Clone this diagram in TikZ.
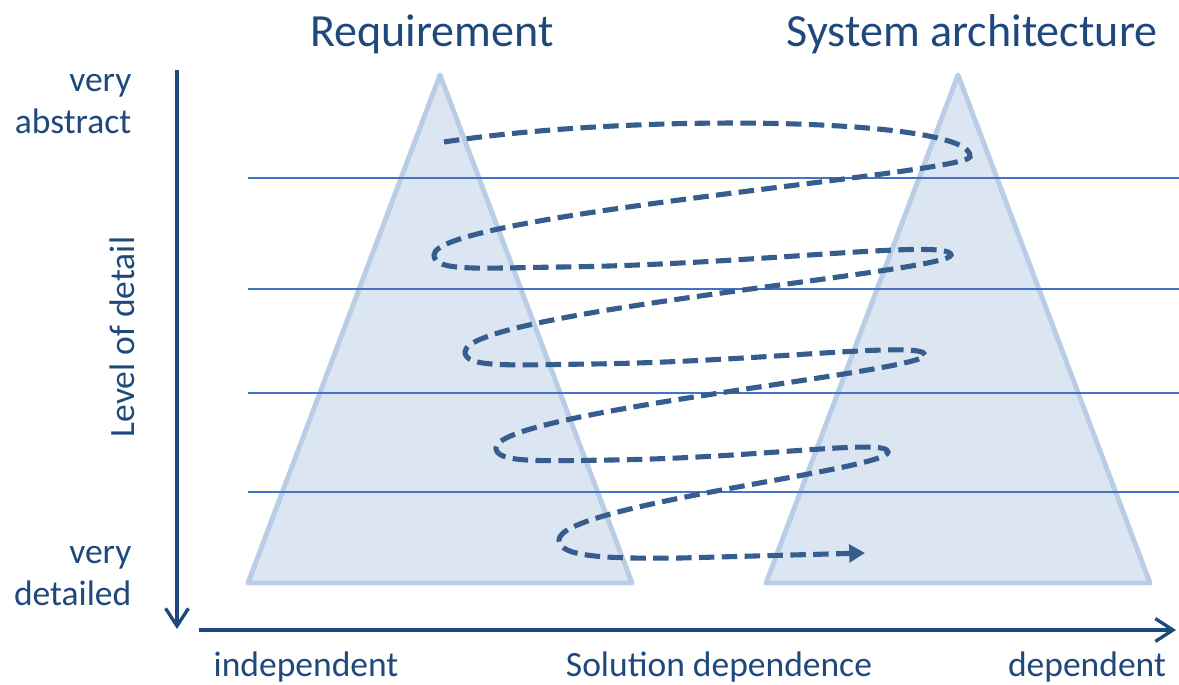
\documentclass[tikz,border=0pt]{standalone}
\usepackage{fontspec}
\setmainfont{Carlito}
\usetikzlibrary{arrows.meta}
\definecolor{txtblue}{RGB}{31,73,125}
\definecolor{trifill}{RGB}{220,230,242}
\definecolor{tridraw}{RGB}{185,205,229}
\definecolor{levline}{RGB}{68,114,196}
\definecolor{spiral}{RGB}{55,93,142}
\begin{document}
\begin{tikzpicture}[x=0.01cm,y=-0.01cm,
  title/.style={text=txtblue,font=\fontsize{13.1}{15}\selectfont,inner sep=0pt},
  lbl/.style={text=txtblue,font=\fontsize{10.1}{12}\selectfont,inner sep=0pt},
  axis/.style={draw=txtblue,line width=0.95pt,-{Straight Barb[length=5pt,width=6.5pt,line width=0.95pt]}},
  tri/.style={fill=trifill,draw=tridraw,line width=1.4pt,line join=round},
  level/.style={draw=levline,line width=0.55pt},
  spir/.style={draw=spiral,line width=1.45pt,dash pattern=on 4.4pt off 2.1pt,-{Triangle[length=4.5pt,width=5pt]}}]
\useasboundingbox (0,0) rectangle (1179,684);
% triangles
\draw[tri] (440,75) -- (632,583) -- (248,583) -- cycle;
\draw[tri] (958,75) -- (1150,583) -- (766,583) -- cycle;
% level lines
\foreach \yy in {178,289,393,492}{
  \draw[level] (248,\yy) -- (1179,\yy);
}
% axes
\coordinate (vtop) at (177,70);
\coordinate (vbot) at (177,629);
\coordinate (hleft) at (199,630);
\coordinate (hright) at (1176,630);
\draw[axis] (vtop) -- (vbot);
\draw[axis] (hleft) -- (hright);
% spiral
\draw[spir] (444,142)
  .. controls (640,112) and (975,118) .. (970,157)
  .. controls (962,174) and (434,215) .. (434,255)
  .. controls (434,272) and (480,268) .. (560,267)
  .. controls (750,265) and (951,238) .. (951,255)
  .. controls (951,272) and (465,312) .. (465,352)
  .. controls (465,368) and (510,365) .. (590,364)
  .. controls (760,362) and (925,340) .. (925,355)
  .. controls (925,372) and (496,412) .. (496,448)
  .. controls (496,463) and (540,461) .. (610,460)
  .. controls (760,458) and (888,438) .. (888,452)
  .. controls (888,470) and (559,505) .. (559,540)
  .. controls (559,556) and (600,559) .. (680,558)
  -- (865,553);
% titles
\node[title,anchor=base] (treq) at (432,46) {Requirement};
\node[title,anchor=base] (tsys) at (972,46) {System architecture};
% left labels
\node[lbl,align=right,anchor=east] (abs) at (132,104) {very\\abstract};
\node[lbl,align=right,anchor=east] (det) at (132,576) {very\\detailed};
\node[lbl,rotate=90] (lod) at (122,337) {Level of detail};
% bottom labels
\node[lbl] (ind) at (306,667) {independent};
\node[lbl] (sol) at (719,667) {Solution dependence};
\node[lbl] (dep) at (1087,667) {dependent};
\end{tikzpicture}
\end{document}
